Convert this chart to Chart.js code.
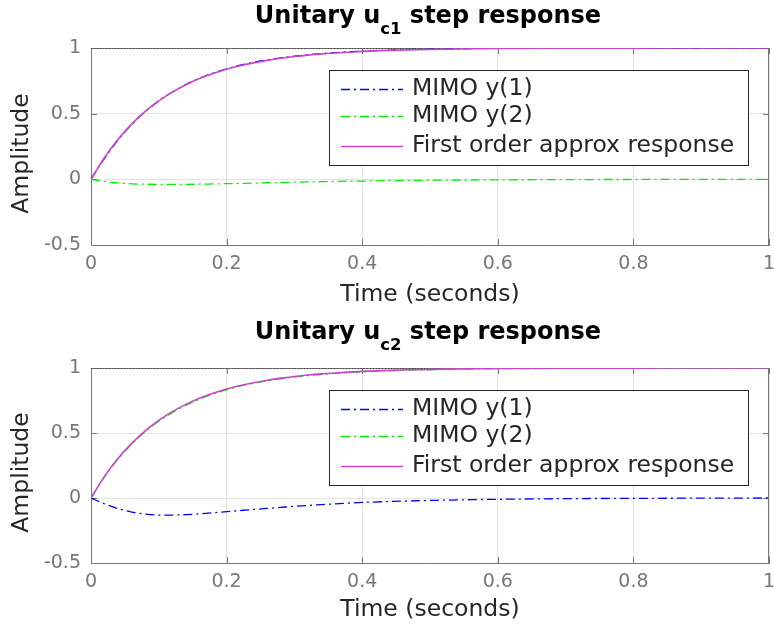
<!DOCTYPE html>
<html>
<head>
<meta charset="utf-8">
<script src="https://cdn.jsdelivr.net/npm/chart.js@4.4.0/dist/chart.umd.min.js"></script>
<style>
  body { margin: 0; background: #fff; }
  canvas { display: block; }
</style>
</head>
<body>
<canvas id="stepC1" width="774" height="315"></canvas>
<canvas id="stepC2" width="774" height="315"></canvas>
<script>
// sample times (s)
const time = [0, 0.02, 0.04, 0.06, 0.08, 0.1, 0.12, 0.14, 0.16, 0.18, 0.2, 0.22, 0.24, 0.26, 0.28, 0.3,
  0.32, 0.34, 0.36, 0.38, 0.4, 0.44, 0.48, 0.52, 0.56, 0.6, 0.7, 0.8, 0.9, 1];

// first order approximation (same for both inputs)
const firstOrder = [0, 0.166, 0.305, 0.420, 0.517, 0.597, 0.664, 0.720, 0.767, 0.805, 0.838, 0.865, 0.887, 0.906, 0.922, 0.935,
  0.946, 0.955, 0.962, 0.968, 0.974, 0.982, 0.987, 0.991, 0.994, 0.996, 0.998, 0.999, 1.0, 1.0];

// input u_c1
const c1Y1 = [0, 0.160, 0.300, 0.418, 0.515, 0.597, 0.665, 0.722, 0.770, 0.809, 0.842, 0.869, 0.891, 0.909, 0.925, 0.938,
  0.949, 0.958, 0.965, 0.971, 0.976, 0.984, 0.989, 0.992, 0.995, 0.997, 0.999, 1.0, 1.0, 1.0];
const c1Y2 = [0, -0.016, -0.027, -0.034, -0.037, -0.038, -0.038, -0.038, -0.037, -0.035, -0.033, -0.031, -0.029, -0.026, -0.024, -0.022,
  -0.020, -0.018, -0.016, -0.014, -0.013, -0.010, -0.008, -0.006, -0.005, -0.004, -0.002, -0.001, 0, 0];

// input u_c2
const c2Y1 = [0, -0.045, -0.082, -0.108, -0.124, -0.131, -0.131, -0.128, -0.122, -0.114, -0.105, -0.096, -0.088, -0.080, -0.072, -0.064,
  -0.057, -0.051, -0.045, -0.039, -0.034, -0.027, -0.021, -0.017, -0.013, -0.010, -0.005, -0.003, -0.001, 0];
const c2Y2 = [0, 0.162, 0.300, 0.414, 0.510, 0.590, 0.657, 0.713, 0.760, 0.799, 0.832, 0.860, 0.882, 0.901, 0.917, 0.930,
  0.941, 0.950, 0.958, 0.964, 0.970, 0.979, 0.985, 0.989, 0.992, 0.994, 0.997, 0.999, 1.0, 1.0];

// steady state line
const finalTime = [0, 1];
const finalValue = [1, 1];

const xTicks = [0, 0.2, 0.4, 0.6, 0.8, 1];
const yTicks = [-0.5, 0, 0.5, 1];
const legendLabels = ["MIMO y(1)", "MIMO y(2)", "First order approx response"];

const FONT = "'DejaVu Sans', sans-serif";
const AXIS_GRAY = "#777777";
const TEXT_DARK = "#262626";
const dashDot = [9, 4, 2, 4];
const lineStyles = [
  { color: "#0000ff", width: 1.3, dash: dashDot },
  { color: "#00ee00", width: 1.3, dash: dashDot },
  { color: "#cc44cc", width: 1.6, dash: [] },
];

const toPoints = (xs, ys) => xs.map((t, i) => ({ x: t, y: ys[i] }));

// axes box, inward ticks, legend, y label and sub-scripted title
const decor = {
  id: "decor",
  beforeDatasetsDraw(chart) {
    const { ctx, chartArea: a, scales } = chart;
    ctx.save();
    ctx.strokeStyle = AXIS_GRAY;
    ctx.lineWidth = 1;
    ctx.beginPath();
    ctx.moveTo(a.right - 0.5, a.top);
    ctx.lineTo(a.right - 0.5, a.bottom);
    ctx.moveTo(a.left, a.top + 0.5);
    ctx.lineTo(a.right, a.top + 0.5);
    xTicks.forEach(v => {
      const px = Math.round(scales.x.getPixelForValue(v)) + 0.5;
      ctx.moveTo(px, a.bottom); ctx.lineTo(px, a.bottom - 6);
      ctx.moveTo(px, a.top); ctx.lineTo(px, a.top + 6);
    });
    yTicks.forEach(v => {
      const py = Math.round(scales.y.getPixelForValue(v)) + 0.5;
      ctx.moveTo(a.left, py); ctx.lineTo(a.left + 6, py);
      ctx.moveTo(a.right, py); ctx.lineTo(a.right - 6, py);
    });
    ctx.stroke();
    ctx.restore();
  },
  afterDatasetsDraw(chart) {
    const { ctx, chartArea: a } = chart;
    const left = a.left + 238, top = a.top + 22, w = 419, h = 95;
    const rows = [19, 46, 76];
    ctx.save();
    ctx.fillStyle = "#fff";
    ctx.fillRect(left, top, w, h);
    ctx.strokeStyle = TEXT_DARK;
    ctx.lineWidth = 1;
    ctx.strokeRect(left + 0.5, top + 0.5, w, h);
    ctx.font = "23.5px " + FONT;
    ctx.textBaseline = "middle";
    legendLabels.forEach((label, i) => {
      const st = lineStyles[i];
      const y = top + rows[i];
      ctx.beginPath();
      ctx.setLineDash(st.dash);
      ctx.strokeStyle = st.color;
      ctx.lineWidth = st.width;
      ctx.moveTo(left + 12, y + 0.5);
      ctx.lineTo(left + 74, y + 0.5);
      ctx.stroke();
      ctx.setLineDash([]);
      ctx.fillStyle = TEXT_DARK;
      ctx.fillText(label, left + 83, y);
    });
    ctx.restore();
  },
  afterDraw(chart, args, opts) {
    const { ctx, chartArea: a } = chart;

    // y axis label, a little below the middle of the axis
    ctx.save();
    ctx.translate(22, (a.top + a.bottom) / 2 + 7);
    ctx.rotate(-Math.PI / 2);
    ctx.font = "23.5px " + FONT;
    ctx.fillStyle = TEXT_DARK;
    ctx.textAlign = "center";
    ctx.textBaseline = "middle";
    ctx.fillText("Amplitude", 0, 0);
    ctx.restore();

    const main = "bold 24px " + FONT, small = "bold 16.5px " + FONT;
    const head = "Unitary u", tail = " step response";
    ctx.save();
    ctx.fillStyle = "#000";
    ctx.textBaseline = "alphabetic";
    ctx.font = main;
    const wHead = ctx.measureText(head).width, wTail = ctx.measureText(tail).width;
    ctx.font = small;
    const wSub = ctx.measureText(opts.sub).width;
    let x = (a.left + a.right) / 2 - (wHead + wSub + wTail) / 2 - 2;
    const base = opts.baseline;
    ctx.font = main;
    ctx.fillText(head, x, base);
    x += wHead;
    ctx.font = small;
    ctx.fillText(opts.sub, x, base + 11);
    x += wSub;
    ctx.font = main;
    ctx.fillText(tail, x, base);
    ctx.restore();
  },
};

function stepChart(id, sub, y1, y2, padTop, xAxisHeight, baseline) {
  return new Chart(document.getElementById(id), {
    type: "line",
    data: {
      datasets: [
        { data: toPoints(time, y1), order: 2 },
        { data: toPoints(time, y2), order: 1 },
        { data: toPoints(time, firstOrder), order: 0 },
        { data: toPoints(finalTime, finalValue), order: 3, borderColor: "#000", borderWidth: 1, borderDash: [1, 2] },
      ].map((ds, i) => Object.assign({
        borderColor: lineStyles[i] ? lineStyles[i].color : undefined,
        borderWidth: lineStyles[i] ? lineStyles[i].width : undefined,
        borderDash: lineStyles[i] ? lineStyles[i].dash : undefined,
        pointRadius: 0,
        fill: false,
        cubicInterpolationMode: "monotone",
      }, ds)),
    },
    options: {
      responsive: false,
      animation: false,
      devicePixelRatio: 1,
      layout: { padding: { top: padTop, right: 5, left: 0, bottom: 0 } },
      plugins: {
        legend: { display: false },
        tooltip: { enabled: false },
        decor: { sub: sub, baseline: baseline },
      },
      scales: {
        x: {
          type: "linear",
          min: 0,
          max: 1,
          afterBuildTicks: s => { s.ticks = xTicks.map(v => ({ value: v })); },
          afterFit: s => { s.height = xAxisHeight; s.paddingLeft = 0; s.paddingRight = 0; },
          ticks: { color: AXIS_GRAY, font: { family: FONT, size: 19 }, padding: 8, maxRotation: 0, callback: v => String(v) },
          grid: { color: "#e3e3e3", drawTicks: false },
          border: { color: AXIS_GRAY },
          title: { display: true, text: "Time (seconds)", color: TEXT_DARK, font: { family: FONT, size: 23.5 }, padding: { top: 6, bottom: 6 } },
        },
        y: {
          min: -0.5,
          max: 1,
          afterBuildTicks: s => { s.ticks = yTicks.map(v => ({ value: v })); },
          afterFit: s => { s.width = 91; s.paddingTop = 0; s.paddingBottom = 0; },
          ticks: { color: AXIS_GRAY, font: { family: FONT, size: 19 }, padding: 10, callback: v => String(v) },
          grid: { color: "#e3e3e3", drawTicks: false },
          border: { color: AXIS_GRAY },
        },
      },
    },
    plugins: [decor],
  });
}

stepChart("stepC1", "c1", c1Y1, c1Y2, 48, 70, 23);
stepChart("stepC2", "c2", c2Y1, c2Y2, 53, 67, 24);
</script>
</body>
</html>
